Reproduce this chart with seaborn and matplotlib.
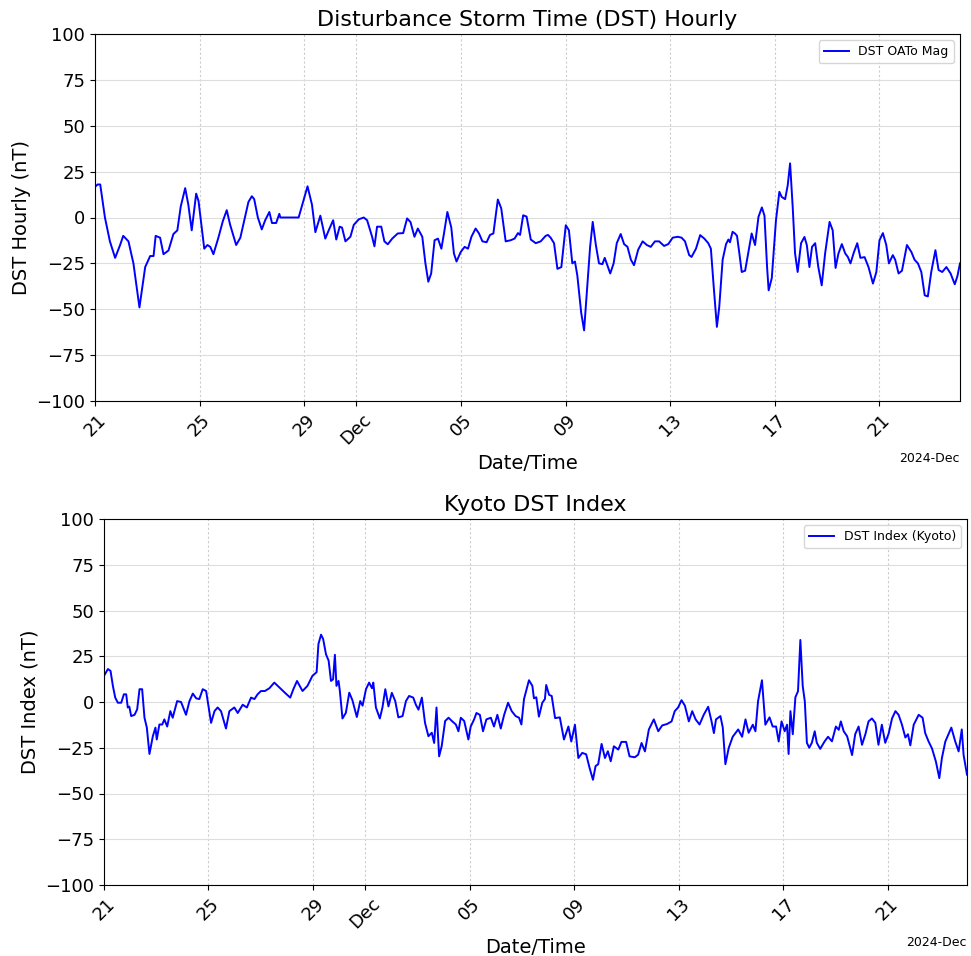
import matplotlib
matplotlib.use("Agg")
import matplotlib.pyplot as plt
import matplotlib.dates as mdates
import seaborn as sns
import pandas as pd

# ---------------- data (days after 2024-11-21 00:00 UTC, nT) ----------------
start_time = "2024-11-21 00:00"

oato_days = [0.00, 0.10, 0.20, 0.38, 0.57, 0.77, 0.96, 1.08, 1.28, 1.47, 1.70, 1.92,
             2.11, 2.24, 2.32, 2.49, 2.62, 2.81, 3.00, 3.15, 3.28, 3.45, 3.57, 3.70,
             3.87, 3.96, 4.05, 4.18, 4.30, 4.41, 4.53, 4.72, 4.89, 5.04, 5.17, 5.40,
             5.56, 5.71, 5.87, 6.00, 6.09, 6.23, 6.38, 6.51, 6.67, 6.77, 6.93, 7.05,
             7.09, 7.79, 7.98, 8.13, 8.30, 8.43, 8.62, 8.81, 8.94, 9.11, 9.23, 9.36,
             9.45, 9.58, 9.77, 9.90, 10.09, 10.28, 10.41, 10.60, 10.69, 10.79, 10.95, 11.07,
             11.20, 11.37, 11.58, 11.79, 11.94, 12.07, 12.22, 12.35, 12.52, 12.64, 12.75, 12.86,
             12.99, 13.12, 13.25, 13.35, 13.48, 13.63, 13.73, 13.83, 13.99, 14.14, 14.27, 14.40,
             14.56, 14.69, 14.82, 14.98, 15.11, 15.24, 15.41, 15.54, 15.71, 15.90, 16.05, 16.18,
             16.26, 16.38, 16.51, 16.67, 16.86, 17.05, 17.24, 17.33, 17.43, 17.56, 17.69, 17.84,
             18.01, 18.13, 18.26, 18.36, 18.45, 18.60, 18.71, 18.81, 18.94, 19.04, 19.16, 19.28,
             19.41, 19.50, 19.61, 19.71, 19.84, 19.96, 20.11, 20.24, 20.37, 20.50, 20.62, 20.78,
             20.95, 21.11, 21.26, 21.42, 21.58, 21.77, 21.93, 22.10, 22.29, 22.44, 22.57, 22.73,
             22.82, 22.99, 23.15, 23.31, 23.46, 23.56, 23.67, 23.79, 23.88, 24.01, 24.14, 24.23,
             24.29, 24.39, 24.48, 24.56, 24.65, 24.74, 24.87, 24.97, 25.12, 25.25, 25.38, 25.51,
             25.61, 25.71, 25.77, 25.89, 26.05, 26.18, 26.27, 26.40, 26.50, 26.59, 26.69, 26.78,
             26.88, 27.01, 27.14, 27.23, 27.33, 27.43, 27.55, 27.67, 27.80, 27.93, 28.10, 28.22,
             28.33, 28.44, 28.57, 28.70, 28.80, 28.90, 29.03, 29.16, 29.28, 29.44, 29.59, 29.76,
             29.89, 30.01, 30.14, 30.27, 30.37, 30.52, 30.61, 30.74, 30.87, 31.06, 31.23, 31.35,
             31.48, 31.61, 31.74, 31.86, 31.99, 32.15, 32.27, 32.41, 32.57, 32.73, 32.89, 32.99,
             33.09]
oato_dst = [16.7, 18.0, 18.0, 0.0, -13.0, -22.0, -15.0, -10.0, -13.0, -25.0, -49.0, -27.0,
            -21.0, -21.0, -10.0, -11.0, -20.0, -18.0, -9.0, -7.0, 6.0, 16.0, 7.0, -7.0,
            13.0, 9.0, -1.5, -17.0, -15.0, -16.0, -20.0, -11.0, -2.0, 4.0, -4.0, -15.0,
            -11.0, -1.5, 8.5, 11.6, 10.0, 0.0, -6.5, -1.5, 3.0, -3.0, -3.0, 2.0,
            0.0, 0.0, 9.4, 17.0, 7.0, -8.0, 1.0, -11.5, -7.0, -1.5, -12.0, -5.0,
            -5.5, -13.0, -10.5, -4.0, -1.0, 0.0, -1.5, -10.5, -15.7, -5.0, -5.0, -13.0,
            -14.6, -11.5, -8.7, -8.5, -0.5, -2.5, -10.5, -6.0, -10.5, -25.0, -35.0, -30.5,
            -12.4, -11.5, -17.0, -8.7, 3.0, -5.5, -19.6, -24.0, -18.8, -16.0, -17.0, -10.5,
            -6.0, -8.7, -13.0, -13.5, -9.5, -8.7, 9.8, 5.0, -13.0, -12.4, -11.5, -8.5,
            -9.5, 1.2, 0.5, -12.0, -14.0, -13.0, -10.0, -9.5, -11.0, -14.0, -28.0, -27.0,
            -4.2, -7.0, -25.0, -24.0, -31.5, -52.0, -61.5, -41.5, -16.0, -2.4, -15.0, -25.0,
            -25.4, -22.0, -26.5, -30.5, -25.0, -14.0, -9.0, -14.5, -16.0, -23.0, -26.0, -17.5,
            -13.0, -15.0, -16.0, -13.0, -13.0, -15.5, -14.5, -11.0, -10.5, -11.0, -13.0, -20.5,
            -21.5, -17.0, -9.6, -11.5, -14.0, -17.0, -38.0, -59.6, -48.8, -23.0, -14.5, -12.0,
            -13.5, -7.8, -8.7, -10.0, -19.6, -29.7, -29.0, -21.0, -8.7, -15.0, 0.3, 5.5,
            1.0, -27.0, -39.7, -33.0, -1.5, 14.0, 11.2, 10.0, 17.6, 29.5, 5.8, -19.6,
            -29.7, -14.0, -10.6, -15.0, -27.0, -16.0, -14.0, -27.0, -37.0, -19.6, -2.4, -7.0,
            -27.5, -19.6, -14.5, -19.6, -21.5, -25.0, -19.0, -14.0, -22.0, -21.6, -27.0, -36.0,
            -29.7, -12.4, -8.5, -15.0, -25.0, -20.5, -23.0, -30.5, -29.0, -15.0, -18.8, -23.0,
            -25.0, -29.7, -42.4, -43.0, -29.7, -17.8, -28.6, -29.7, -27.0, -30.5, -36.4, -32.0,
            -25.0]

kyoto_days = [0.00, 0.15, 0.25, 0.34, 0.43, 0.53, 0.66, 0.76, 0.85, 0.91, 0.97, 1.04,
              1.17, 1.27, 1.36, 1.46, 1.55, 1.64, 1.74, 1.87, 1.97, 2.02, 2.12, 2.23,
              2.31, 2.42, 2.54, 2.63, 2.80, 2.95, 3.14, 3.27, 3.40, 3.53, 3.65, 3.78,
              3.91, 3.97, 4.10, 4.23, 4.35, 4.48, 4.67, 4.80, 4.99, 5.12, 5.31, 5.47,
              5.63, 5.76, 5.88, 6.01, 6.16, 6.33, 6.52, 6.71, 6.93, 7.13, 7.25, 7.39,
              7.60, 7.79, 7.98, 8.14, 8.21, 8.31, 8.39, 8.50, 8.60, 8.69, 8.77, 8.84,
              8.90, 8.98, 9.03, 9.13, 9.26, 9.39, 9.51, 9.68, 9.81, 9.90, 10.03, 10.15,
              10.26, 10.31, 10.41, 10.56, 10.66, 10.77, 10.89, 11.02, 11.15, 11.27, 11.43, 11.56,
              11.68, 11.84, 11.94, 12.04, 12.17, 12.29, 12.42, 12.55, 12.64, 12.73, 12.83, 12.93,
              13.06, 13.19, 13.32, 13.47, 13.57, 13.66, 13.79, 13.88, 13.95, 14.04, 14.17, 14.26,
              14.39, 14.51, 14.64, 14.81, 14.93, 15.06, 15.19, 15.32, 15.47, 15.61, 15.76, 15.89,
              15.98, 16.08, 16.27, 16.40, 16.46, 16.55, 16.65, 16.78, 16.88, 16.93, 17.04, 17.14,
              17.27, 17.45, 17.61, 17.78, 17.89, 18.03, 18.16, 18.31, 18.46, 18.59, 18.72, 18.82,
              18.92, 19.05, 19.18, 19.29, 19.40, 19.52, 19.69, 19.81, 19.99, 20.12, 20.32, 20.45,
              20.58, 20.71, 20.86, 21.05, 21.22, 21.37, 21.56, 21.73, 21.85, 21.98, 22.11, 22.24,
              22.39, 22.52, 22.65, 22.80, 22.96, 23.13, 23.26, 23.35, 23.43, 23.60, 23.69, 23.79,
              23.92, 24.07, 24.28, 24.43, 24.56, 24.68, 24.84, 24.94, 25.04, 25.19, 25.32, 25.48,
              25.60, 25.73, 25.83, 25.94, 26.06, 26.15, 26.21, 26.28, 26.37, 26.47, 26.57, 26.66,
              26.75, 26.83, 26.91, 27.00, 27.10, 27.21, 27.29, 27.42, 27.59, 27.72, 27.87, 28.02,
              28.13, 28.21, 28.32, 28.45, 28.64, 28.76, 28.89, 29.02, 29.15, 29.27, 29.40, 29.53,
              29.65, 29.78, 29.91, 30.04, 30.17, 30.30, 30.42, 30.55, 30.68, 30.78, 30.87, 31.00,
              31.19, 31.34, 31.44, 31.57, 31.70, 31.85, 31.98, 32.08, 32.21, 32.44, 32.59, 32.72,
              32.84, 32.91, 33.04]
kyoto_dst = [14.3, 18.0, 17.0, 8.8, 2.4, -0.4, -0.4, 4.2, 4.2, -3.0, -2.5, -7.7,
             -7.0, -4.0, 7.0, 7.0, -8.6, -14.0, -28.4, -18.7, -14.0, -20.5, -12.3, -12.3,
             -9.5, -13.4, -5.0, -8.6, 0.5, 0.0, -7.0, 0.4, 4.6, 2.0, 1.6, 7.0,
             6.0, 0.5, -11.4, -5.0, -3.0, -5.0, -14.5, -5.0, -3.0, -6.0, -1.5, -3.0,
             2.4, 1.6, 4.2, 6.0, 6.0, 7.5, 10.6, 8.0, 5.0, 2.4, 7.0, 11.5,
             6.0, 8.8, 14.3, 16.3, 31.7, 36.8, 34.4, 26.0, 22.6, 11.5, 12.4, 25.8,
             8.8, 11.5, 6.0, -9.0, -5.9, 5.1, 1.0, -8.2, 0.5, -2.0, 7.0, 10.6,
             7.5, 10.6, -3.0, -9.0, -3.0, 7.0, -2.4, 5.0, 0.5, -8.4, -7.7, 0.5,
             3.3, 2.4, -1.5, -4.2, 2.4, -11.4, -18.7, -16.8, -22.4, -3.0, -29.7, -24.0,
             -10.4, -8.6, -10.4, -12.3, -16.0, -8.6, -10.4, -16.0, -20.5, -13.4, -9.5, -6.0,
             -7.0, -16.0, -9.5, -8.6, -13.4, -7.0, -14.5, -7.0, -0.4, -5.0, -7.7, -8.6,
             -12.3, 1.6, 11.9, 8.8, 2.0, 2.6, -8.0, -0.4, 1.6, 9.3, 3.9, 3.3,
             -8.8, -8.4, -20.5, -13.4, -21.6, -12.4, -30.6, -27.8, -28.6, -36.0, -42.5, -35.0,
             -34.0, -22.9, -30.6, -26.9, -32.4, -24.2, -26.0, -21.8, -21.8, -29.7, -30.2, -28.8,
             -22.4, -27.0, -15.0, -9.5, -16.0, -12.8, -12.0, -10.6, -5.0, -3.0, 1.0, -2.0,
             -10.6, -5.0, -9.5, -12.3, -7.0, -2.6, -10.6, -17.0, -9.5, -7.7, -14.0, -34.0,
             -25.0, -19.0, -15.0, -19.0, -9.5, -16.8, -12.4, -16.0, 0.4, 11.9, -12.4, -8.4,
             -13.4, -13.4, -21.6, -10.6, -16.0, -12.4, -28.4, -5.0, -17.6, 2.6, 5.9, 33.9,
             8.8, 0.4, -22.3, -25.0, -22.3, -16.0, -22.3, -25.6, -21.5, -19.0, -21.5, -13.4,
             -15.2, -10.6, -16.0, -18.7, -29.0, -17.6, -13.4, -23.4, -17.6, -10.6, -9.0, -11.4,
             -23.4, -12.4, -22.3, -17.3, -9.0, -5.0, -7.0, -12.4, -19.4, -17.6, -23.7, -12.4,
             -7.0, -8.6, -17.0, -21.6, -25.4, -32.6, -41.6, -30.6, -21.6, -14.0, -21.6, -27.0,
             -15.0, -29.0, -39.7]

y_ticks = [-100, -75, -50, -25, 0, 25, 50, 75, 100]

t0 = pd.Timestamp(start_time)
oato = pd.DataFrame({"time": t0 + pd.to_timedelta(oato_days, unit="D"), "dst": oato_dst})
kyoto = pd.DataFrame({"time": t0 + pd.to_timedelta(kyoto_days, unit="D"), "dst": kyoto_dst})

# ---------------- figure ----------------
W, H = 971, 956
fig = plt.figure(figsize=(W / 100, H / 100), dpi=100)

def frac(l, t, r, b):
    return [l / W, 1 - b / H, (r - l) / W, (b - t) / H]

ax1 = fig.add_axes(frac(95, 34, 960, 401))
ax2 = fig.add_axes(frac(104, 519, 967, 885))

panels = [
    (ax1, oato, "DST OATo Mag", "Disturbance Storm Time (DST) Hourly", "DST Hourly (nT)"),
    (ax2, kyoto, "DST Index (Kyoto)", "Kyoto DST Index", "DST Index (nT)"),
]

for ax, df, lab, title, ylab in panels:
    sns.lineplot(data=df, x="time", y="dst", ax=ax, color="blue", linewidth=1.4,
                 label=lab)
    ax.set_xlim(df["time"].iloc[0], df["time"].iloc[-1])
    ax.set_ylim(-100, 100)
    ax.set_yticks(y_ticks)
    ax.set_title(title, fontsize=16)
    ax.set_xlabel("Date/Time", fontsize=14)
    ax.set_ylabel(ylab, fontsize=14)
    loc = mdates.AutoDateLocator()
    ax.xaxis.set_major_locator(loc)
    ax.xaxis.set_major_formatter(mdates.ConciseDateFormatter(loc))
    ax.tick_params(axis="both", labelsize=13)
    for lbl in ax.get_xticklabels():
        lbl.set_rotation(45)
    ax.xaxis.get_offset_text().set_fontsize(9)
    ax.yaxis.grid(True, color="#dddddd", linestyle="-", linewidth=0.8)
    ax.xaxis.grid(True, color="#cccccc", linestyle=(0, (2, 2)), linewidth=0.8)
    ax.set_axisbelow(True)
    ax.legend(loc="upper right", fontsize=9)

fig.savefig("out.png", dpi=100)
